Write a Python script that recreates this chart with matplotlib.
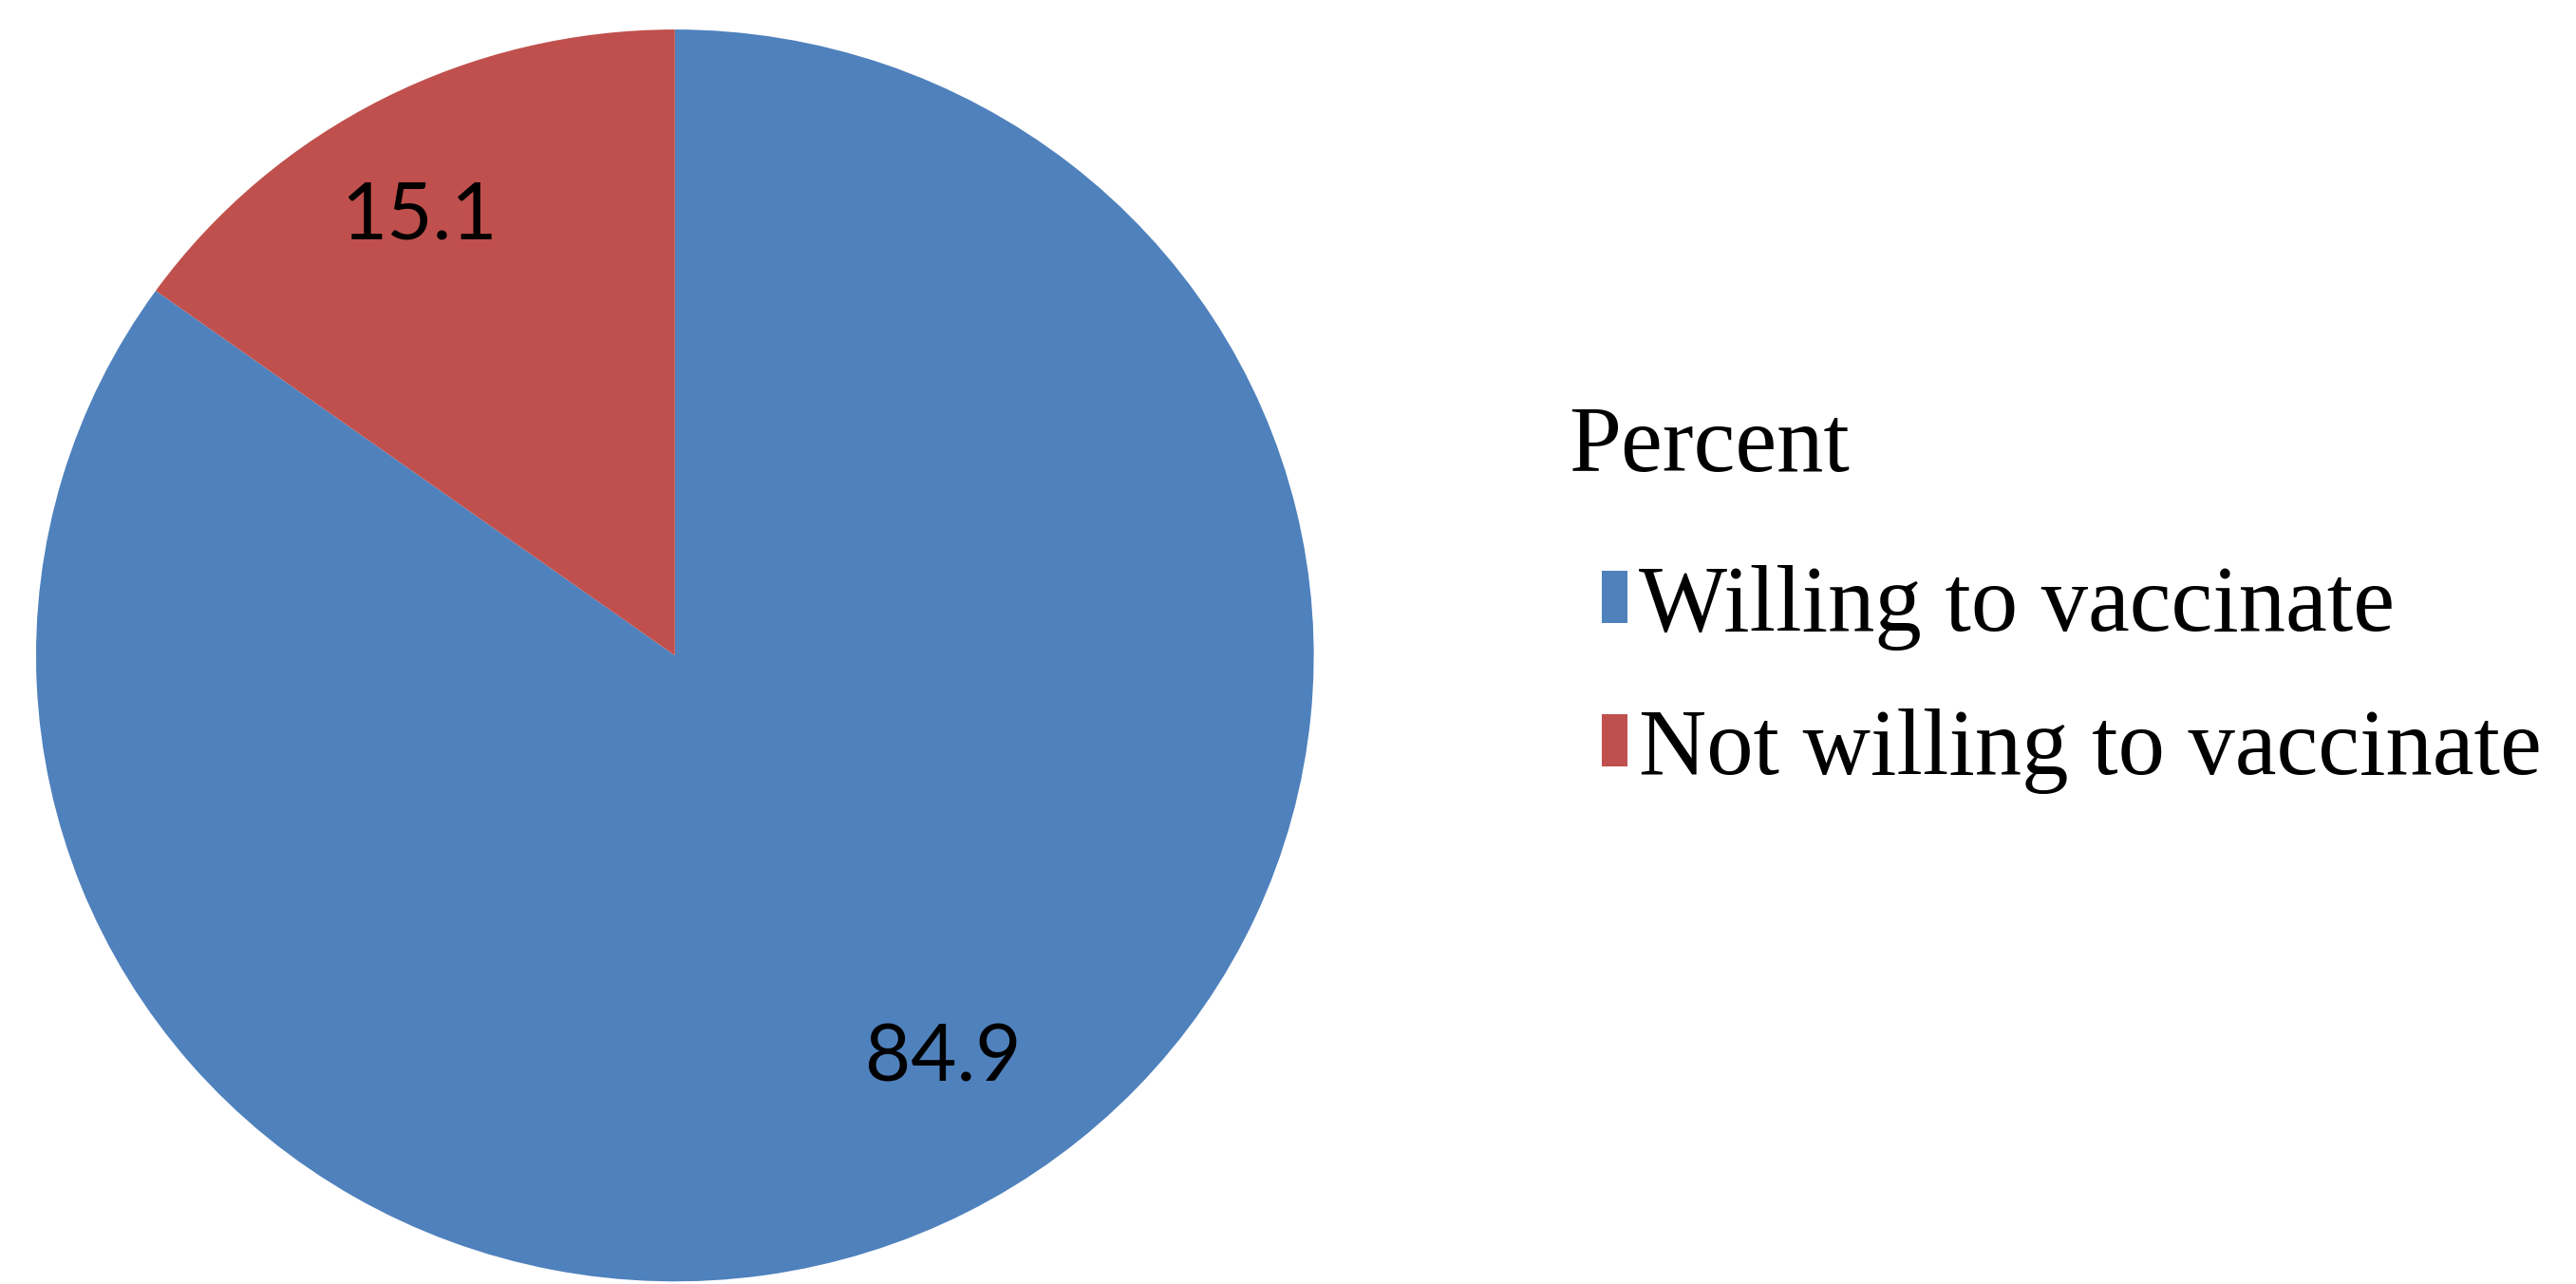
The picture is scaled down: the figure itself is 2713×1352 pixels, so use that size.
# pie chart: willingness to vaccinate

import matplotlib.pyplot as plt

# data
labels = ['Willing to vaccinate', 'Not willing to vaccinate']
values = [84.9, 15.1]
colors = ['#4F81BD', '#C0504D']
legend_title = 'Percent'

fig = plt.figure(figsize=(27.13, 13.52), dpi=100)
ax = fig.add_axes([0.014, 0.002, 0.496, 0.975])

wedges, texts, autotexts = ax.pie(values, colors=colors, startangle=90, counterclock=False,
                                  autopct=lambda p: '%.1f' % p, pctdistance=0.78,
                                  wedgeprops=dict(linewidth=0),
                                  textprops=dict(fontsize=60, family='Lato', color='black'))
ax.set_xlim(-1, 1)
ax.set_ylim(-1, 1)
ax.set_aspect('auto')

# nudge the labels to where the original puts them
autotexts[0].set_position((0.42, -0.645))
autotexts[1].set_position((-0.40, 0.70))

# title sits a bit left of the colour boxes, so draw it on its own
fig.text(0.609, 0.651, legend_title, family='Liberation Serif', size=71,
         ha='left', va='center')

leg = fig.legend(wedges, labels, loc='center left',
                 bbox_to_anchor=(0.622, 0.471), frameon=False,
                 prop=dict(family='Liberation Serif', size=71),
                 borderpad=0, borderaxespad=0,
                 handlelength=0.27, handleheight=0.48,
                 handletextpad=0.12, labelspacing=0.62)

fig.savefig('out.png', dpi=100)
